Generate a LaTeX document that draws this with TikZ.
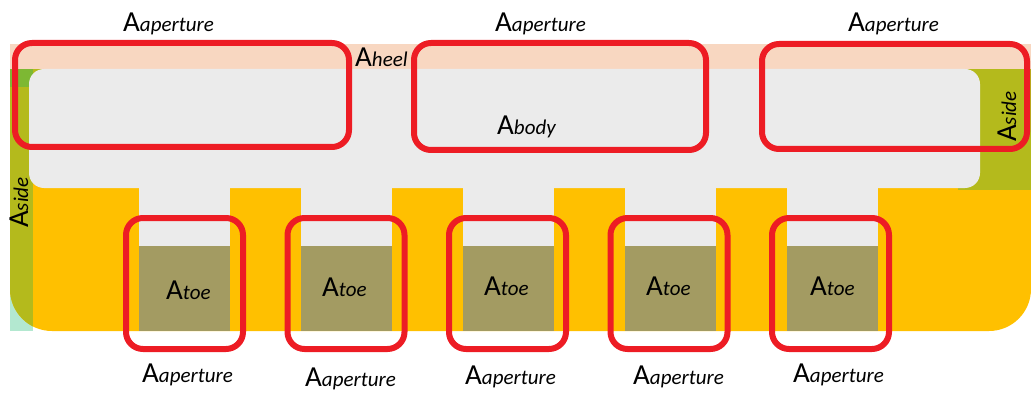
\documentclass[tikz,border=0pt]{standalone}
\usepackage{fontspec}
\setmainfont{Carlito}
\definecolor{heelpeach}{HTML}{F8D7C1}
\definecolor{bodygray}{HTML}{EBEBEB}
\definecolor{baseyellow}{HTML}{FFC000}
\definecolor{sideolive}{HTML}{B4BA1C}
\definecolor{sidegreen}{HTML}{7DB833}
\definecolor{sideteal}{HTML}{B3E8D0}
\definecolor{toekhaki}{HTML}{A39B62}
\definecolor{aperred}{HTML}{ED1C24}
\newcommand{\areaname}[1]{{\fontsize{29}{32}\selectfont A}{\fontsize{21}{24}\selectfont\itshape #1}}
\tikzset{
  aperbox/.style={draw=aperred, line width=6pt, rounded corners=17pt, inner sep=0pt},
  lbl/.style={inner sep=0pt, anchor=base west, text=black},
}
\begin{document}
\begin{tikzpicture}[x=1pt,y=-1pt]
\useasboundingbox (0,0) rectangle (1031,393);
% base plate with side strips
\fill[sideteal] (10,69) rectangle (33,331);
\path[save path=\plate] (10,69) -- (1031,69) -- (1031,289) arc[start angle=0,end angle=90,radius=42] -- (52,331) arc[start angle=90,end angle=180,radius=42] -- cycle;
\fill[baseyellow, use path=\plate];
\begin{scope}
  \clip[use path=\plate];
  \fill[sideolive] (10,69) rectangle (33,331);
  \fill[sideolive] (10,69) rectangle (50,110);
\end{scope}
\fill[sidegreen] (10,69) rectangle (33,87);
\fill[sideolive] (958,69) rectangle (1031,190);
% heel strip
\fill[heelpeach] (10,44) rectangle (1031,69);
% body with stems and toes
\fill[bodygray, rounded corners=15pt] (29,69) rectangle (980,188);
\foreach \i in {0,...,4} {
  \fill[bodygray] (139+162*\i,180) rectangle (230+162*\i,246);
  \fill[toekhaki] (139+162*\i,246) rectangle (230+162*\i,331);
}
% apertures
\node[aperbox, minimum width=334pt, minimum height=104pt] (ap1) at (182,95) {};
\node[aperbox, minimum width=292pt, minimum height=107pt] (ap2) at (560,96.5) {};
\node[aperbox, minimum width=265pt, minimum height=105pt] (ap3) at (894.5,96.5) {};
\foreach \i in {0,...,4} {
  \node[aperbox, minimum width=117pt, minimum height=131pt] (tp\i) at (184.5+161.5*\i,283.5) {};
}
% labels
\node[lbl] (la1) at (123,32) {\areaname{aperture}};
\node[lbl] (la2) at (495,32) {\areaname{aperture}};
\node[lbl] (la3) at (848,32) {\areaname{aperture}};
\node[lbl] (lb1) at (142,382) {\areaname{aperture}};
\node[lbl] (lb2) at (305,386) {\areaname{aperture}};
\node[lbl] (lb3) at (465,384) {\areaname{aperture}};
\node[lbl] (lb4) at (633,384) {\areaname{aperture}};
\node[lbl] (lb5) at (793,382) {\areaname{aperture}};
\node[lbl] (lheel) at (355,67) {\areaname{heel}};
\node[lbl] (lbody) at (497,135) {\areaname{body}};
\node[lbl] (lt1) at (166,299) {\areaname{toe}};
\node[lbl] (lt2) at (322,296) {\areaname{toe}};
\node[lbl] (lt3) at (484,295) {\areaname{toe}};
\node[lbl] (lt4) at (646,295) {\areaname{toe}};
\node[lbl] (lt5) at (810,295) {\areaname{toe}};
\node[lbl, rotate=90] (ls1) at (28,228) {\areaname{side}};
\node[lbl, rotate=90] (ls2) at (1016,142) {\areaname{side}};
\end{tikzpicture}
\end{document}
